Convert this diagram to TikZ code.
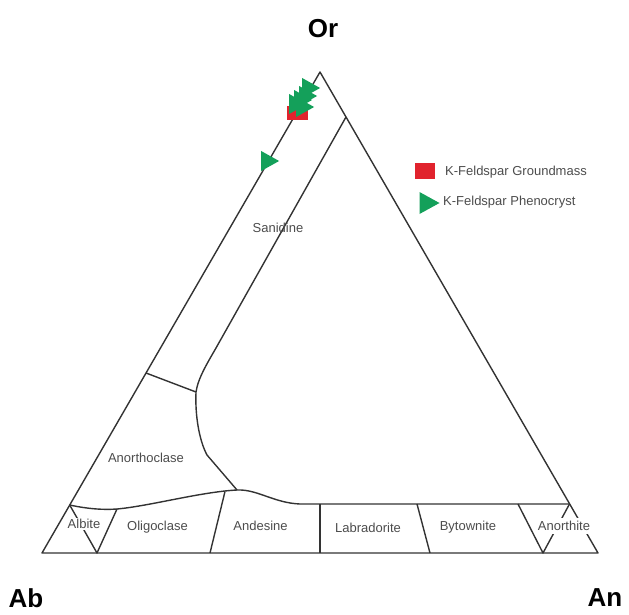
\documentclass[tikz,border=0pt]{standalone}
\usepackage{fontspec}
\setmainfont{Liberation Sans}
\usetikzlibrary{shapes.geometric}
\definecolor{gmred}{RGB}{225,35,45}
\definecolor{phgreen}{RGB}{20,160,90}

\begin{document}
\begin{tikzpicture}[x=1pt, y=-1pt,
        edge/.style={draw=black!80, line width=1.4pt, line join=round},
        field/.style={font=\fontsize{13}{15}\selectfont, text=black!70, inner sep=1pt},
        corner/.style={font=\fontsize{26}{30}\selectfont\bfseries},
        gm/.style={fill=gmred, minimum width=21pt, minimum height=14pt, inner sep=0pt},
        ph/.style={isosceles triangle, isosceles triangle stretches, fill=phgreen, minimum width=20pt, minimum height=18pt, inner sep=0pt},
        key/.style={font=\fontsize{13}{15}\selectfont, text=black!70, anchor=west, inner sep=0pt}]

                \useasboundingbox (0,0) rectangle (629,615);

                % Corners
                \coordinate (Or) at (320,72);
                \coordinate (Ab) at (42,553);
                \coordinate (An) at (598,553);

                % Field boundaries
                \coordinate (sa1) at (346,117);
                \coordinate (j1) at (196,392);
                \coordinate (ac1) at (146,373);
                \coordinate (j2) at (237,490);
                \coordinate (ab1) at (69.7,505);
                \coordinate (ab2) at (117,509);
                \coordinate (ab3) at (97,553);
                \coordinate (an1) at (569.5,504);
                \coordinate (an2) at (518,504);
                \coordinate (an3) at (543,553);
                \coordinate (ad1) at (225,491.5);
                \coordinate (ad2) at (210,553);
                \coordinate (lb1) at (320,504);
                \coordinate (lb2) at (320,553);
                \coordinate (by1) at (417,504);
                \coordinate (by2) at (430,553);

                % Edges
                \draw[edge] (Ab) -- (Or) -- (An) -- cycle;
                \draw[edge] (sa1) -- (216,348) .. controls (208,362) and (198,378) .. (j1)
                        .. controls (195,415) and (199,440) .. (207,455) -- (j2);
                \draw[edge] (ac1) -- (j1);
                \draw[edge] (ab1) .. controls (88,509) and (104,510) .. (ab2)
                        .. controls (150,506) and (200,492) .. (j2)
                        .. controls (257,489) and (274,503) .. (300,504) -- (an1);
                \draw[edge] (ab1) -- (ab3) -- (ab2);
                \draw[edge] (ad1) -- (ad2);
                \draw[edge] (lb1) -- (lb2);
                \draw[edge] (by1) -- (by2);
                \draw[edge] (an2) -- (an3) -- (an1);

                % Fields
                \node[field] (san) at (278,228) {Sanidine};
                \node[field] (ano) at (146,458) {Anorthoclase};
                \node[field, fill=white] (alb) at (84,524) {Albite};
                \node[field] (oli) at (157.5,527) {Oligoclase};
                \node[field] (and) at (260.5,526) {Andesine};
                \node[field] (lab) at (368,528) {Labradorite};
                \node[field] (byt) at (468,527) {Bytownite};
                \node[field, fill=white, inner sep=3pt] (ant) at (564,526) {Anorthite};

                % Corner labels
                \node[corner] (lOr) at (323,29) {Or};
                \node[corner] (lAb) at (26,598) {Ab};
                \node[corner] (lAn) at (605,598) {An};

                % Data
                \node[gm] (g1) at (297,113) {};
                \node[ph] (p1) at (267,161) {};
                \node[ph] (p2) at (308,88) {};
                \node[ph] (p3) at (305,96) {};
                \node[ph] (p4) at (300,100) {};
                \node[ph] (p5) at (295,104) {};
                \node[ph] (p6) at (302,107) {};

                % Legend
                \node[gm, minimum height=16pt, minimum width=20pt] (gmkey) at (425,171) {};
                \node[key] (gmtxt) at (445,172) {K-Feldspar Groundmass};
                \node[ph, minimum width=22pt, minimum height=20pt] (phkey) at (426,203) {};
                \node[key] (phtxt) at (443,202) {K-Feldspar Phenocryst};

\end{tikzpicture}
\end{document}
